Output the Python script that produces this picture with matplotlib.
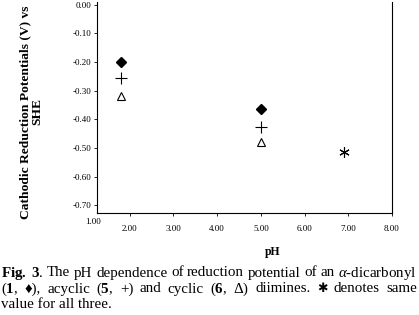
import matplotlib
matplotlib.use("Agg")
import matplotlib.pyplot as plt

plt.rcParams['font.family'] = ['Liberation Serif', 'DejaVu Serif']
plt.rcParams['mathtext.fontset'] = 'custom'
plt.rcParams['mathtext.rm'] = 'Liberation Serif'
plt.rcParams['mathtext.bf'] = 'Liberation Serif:bold'
plt.rcParams['mathtext.it'] = 'Liberation Serif:italic'
plt.rcParams['mathtext.fallback'] = 'stix'

# data
ph_low = [1.8]
ph_mid = [5.0]
ph_star = [6.9]
dicarbonyl = [-0.20, -0.365]
acyclic = [-0.255, -0.425]
cyclic = [-0.32, -0.48]
common = [-0.515]

xticks = [2, 3, 4, 5, 6, 7, 8]
yticks = [0.0, -0.1, -0.2, -0.3, -0.4, -0.5, -0.6, -0.7]

fig = plt.figure(figsize=(4.19, 3.15), dpi=100)
ax = fig.add_axes([0.2315, 0.3238, 0.704, 0.67])

xs = ph_low + ph_mid
ax.plot(xs, dicarbonyl, 'D', color='black', ms=5, ls='none')
ax.plot(xs, acyclic, '+', color='black', ms=8, mew=0.8, ls='none')
ax.plot(xs, cyclic, '^', mfc='white', mec='black', ms=6, mew=0.8, ls='none')
ax.plot(ph_star, common, marker=(6, 2, 0), color='black', ms=7.5, mew=0.8, ls='none')

ax.set_xlim(1.25, 8.0)
ax.set_ylim(-0.727, 0.01)
ax.set_xticks(xticks)
ax.set_xticklabels(['%.2f' % v for v in xticks], fontsize=6.5)
ax.set_yticks(yticks)
ax.set_yticklabels(['%.2f' % v for v in yticks], fontsize=6.5)
ax.text(1.15, -0.745, '1.00', fontsize=6.5, ha='center', va='top',
        transform=ax.transData)
ax.tick_params(axis='both', direction='out', length=2.5, width=0.6, pad=6)
ax.tick_params(axis='y', pad=1.5)
ax.spines['top'].set_visible(False)
for s in ['left', 'bottom', 'right']:
    ax.spines[s].set_linewidth(0.8)

ax.set_xlabel('pH', fontsize=8.5, fontweight='bold')
ax.xaxis.set_label_coords((273 - 97) / 295, -0.185)
ax.xaxis.label.set_va('center')
fig.text(0.075, 0.645, 'Cathodic Reduction Potentials (V) vs\nSHE',
         rotation=90, fontsize=9.7, fontweight='bold', ha='center', va='center',
         linespacing=1.0)

# caption, first two lines justified to full width
cap = [
    r'$\mathbf{Fig.\ 3}$. The pH dependence of reduction potential of an $\alpha$-dicarbonyl',
    r'($\mathbf{1}$, ♦), acyclic ($\mathbf{5}$, +) and cyclic ($\mathbf{6}$, $\Delta$) diimines. ✱ denotes same',
    'value for all three.',
]
cap_y = [273, 289, 304]
renderer = fig.canvas.get_renderer()
left, right = 1, 417
for i, line in enumerate(cap):
    y = 1 - cap_y[i] / 315
    if i == len(cap) - 1:
        fig.text(left / 419, y, line, fontsize=10.8, ha='left', va='center')
        continue
    words = line.split(' ')
    # keep math groups together
    toks = []
    buf = ''
    for w in words:
        buf = w if not buf else buf + ' ' + w
        if buf.count('$') % 2 == 0:
            toks.append(buf)
            buf = ''
    arts = []
    for t in toks:
        if t == '✱':
            arts.append(fig.text(0, y, t, fontsize=9, family=['DejaVu Sans'],
                                 ha='left', va='center'))
        else:
            arts.append(fig.text(0, y, t, fontsize=10.8, ha='left', va='center'))
    widths = [a.get_window_extent(renderer).width for a in arts]
    gap = (right - left - sum(widths)) / (len(arts) - 1)
    x = left
    for a, w in zip(arts, widths):
        a.set_x(x / 419)
        x += w + gap

fig.savefig('out.png', dpi=100)
